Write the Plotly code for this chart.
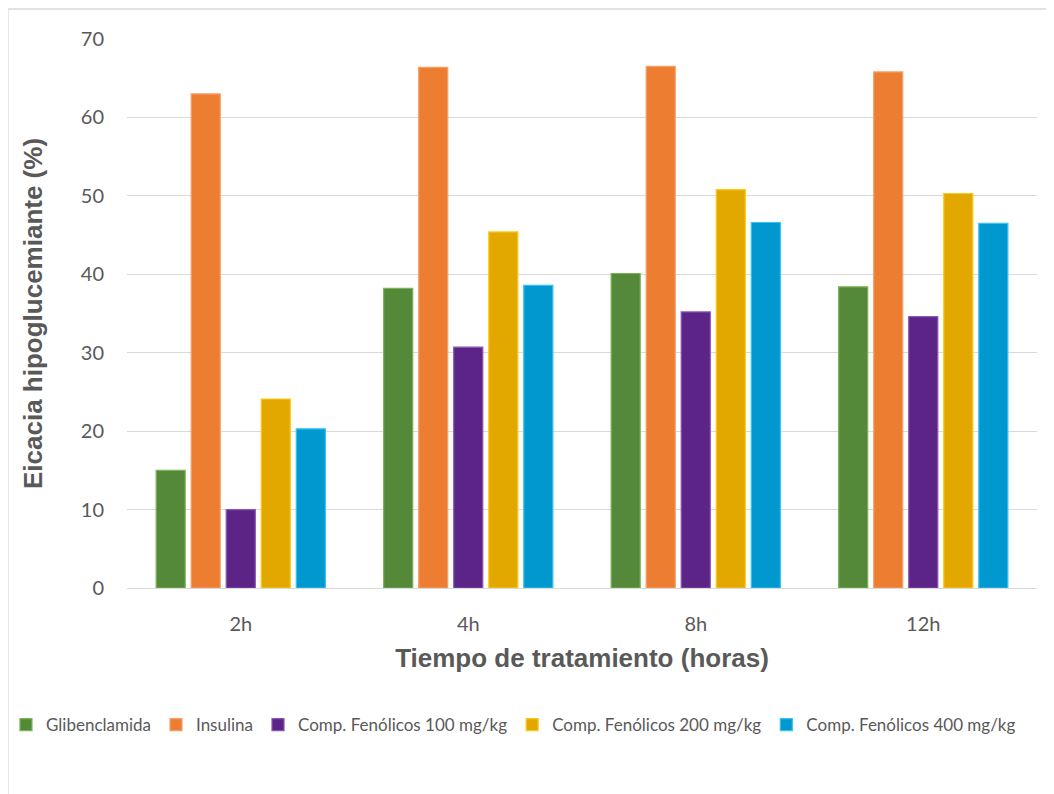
import plotly.graph_objects as go

categories = ["2h", "4h", "8h", "12h"]
series_names = ["Glibenclamida", "Insulina", "Comp. Fenólicos 100 mg/kg",
                "Comp. Fenólicos 200 mg/kg", "Comp. Fenólicos 400 mg/kg"]
glibenclamida = [15.0, 38.2, 40.1, 38.4]
insulina = [63.0, 66.4, 66.5, 65.8]
fenolicos_100 = [10.0, 30.7, 35.2, 34.6]
fenolicos_200 = [24.1, 45.4, 50.8, 50.3]
fenolicos_400 = [20.3, 38.6, 46.6, 46.5]
y_ticks = [0, 10, 20, 30, 40, 50, 60, 70]

values = [glibenclamida, insulina, fenolicos_100, fenolicos_200, fenolicos_400]
fills = ["#55893A", "#ED7D31", "#5B2486", "#E2A800", "#0098CF"]
edges = ["#7CB356", "#F4A06A", "#8A55B5", "#FFC91A", "#33C3F5"]

fig = go.Figure()
for name, vals, fc, ec in zip(series_names, values, fills, edges):
    fig.add_trace(go.Bar(
        x=categories, y=vals, name=name,
        marker=dict(color=fc, line=dict(color=ec, width=1.2)),
    ))

fig.update_layout(
    width=1054, height=794,
    barmode="group", bargap=0.23, bargroupgap=0.17,
    paper_bgcolor="white", plot_bgcolor="white",
    margin=dict(l=119, r=25, t=31, b=214, autoexpand=False),
    font=dict(family="Lato, Open Sans, sans-serif", color="#595959"),
    legend=dict(orientation="h", x=-0.133, xanchor="left",
                y=-0.2495, yanchor="middle", bgcolor="rgba(0,0,0,0)",
                font=dict(size=17, color="#595959"), itemwidth=30,
                traceorder="normal", tracegroupgap=0),
    showlegend=True,
)
fig.update_yaxes(
    range=[0, 70], tickvals=y_ticks, showgrid=True, gridcolor="#D9D9D9", gridwidth=1.3,
    zeroline=True, zerolinecolor="#D9D9D9", zerolinewidth=1.3, showline=False,
    tickfont=dict(size=20, color="#595959"), ticks="", ticklabelstandoff=22,
    title=dict(text="<b>Eicacia hipoglucemiante (%)</b>", standoff=30,
               font=dict(family="Liberation Sans, Arial, sans-serif", size=26, color="#595959")),
)
fig.update_xaxes(
    showline=True, linecolor="#D9D9D9", linewidth=1.3, ticks="",
    tickfont=dict(size=20, color="#595959"), ticklabelstandoff=18,
    title=dict(text="<b>Tiempo de tratamiento (horas)</b>", standoff=14,
               font=dict(family="Liberation Sans, Arial, sans-serif", size=26, color="#595959")),
)
fig.add_shape(type="rect", xref="paper", yref="paper",
              x0=-0.1308, x1=1.05, y0=-0.40, y1=1.0546,
              line=dict(color="#D9D9D9", width=1.3), fillcolor="rgba(0,0,0,0)", layer="below")

fig.write_html("out.html")
